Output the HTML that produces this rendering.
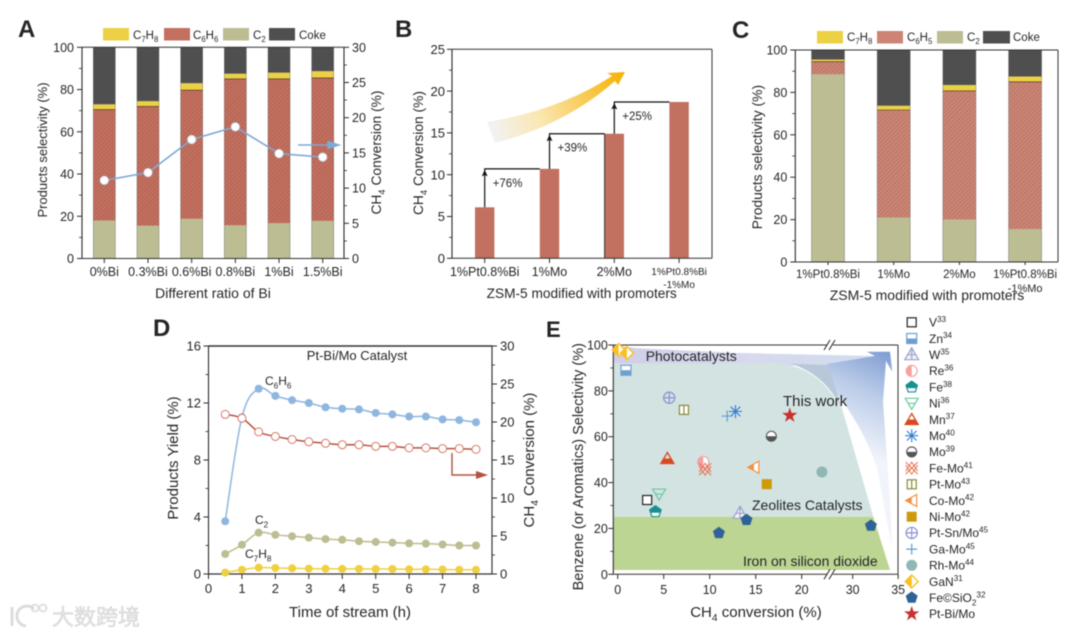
<!DOCTYPE html>
<html lang="en">
<head>
<meta charset="utf-8">
<title>Catalyst performance figure</title>
<style>
html,body{margin:0;padding:0;background:#fff;width:1080px;height:636px;overflow:hidden}
svg{display:block;filter:blur(0.5px)}
text{font-family:"Liberation Sans","Noto Sans CJK SC",sans-serif;fill:#262626}
</style>
</head>
<body>
<svg id="fig" xmlns="http://www.w3.org/2000/svg" width="1080" height="636" viewBox="0 0 1080 636">
<defs>
<pattern id="hatch" width="3" height="3" patternUnits="userSpaceOnUse" patternTransform="rotate(45)">
<line x1="0" y1="0" x2="0" y2="3" stroke="#4a1f18" stroke-width="1"/>
</pattern>
<linearGradient id="growth-grad" x1="487" y1="130" x2="625" y2="75" gradientUnits="userSpaceOnUse">
<stop offset="0" stop-color="#f1f3f8"/><stop offset="0.35" stop-color="#fbe7b4"/><stop offset="1" stop-color="#f6b200"/>
</linearGradient>
<linearGradient id="photo-grad" x1="614" y1="0" x2="840" y2="0" gradientUnits="userSpaceOnUse">
<stop offset="0" stop-color="#d0cee8"/><stop offset="0.6" stop-color="#d8d9ee"/><stop offset="1" stop-color="#d2dcef"/>
</linearGradient>
<linearGradient id="tail-grad" x1="888" y1="352" x2="845" y2="445" gradientUnits="userSpaceOnUse">
<stop offset="0" stop-color="#7f9dd2"/><stop offset="0.45" stop-color="#bccde9"/><stop offset="1" stop-color="#f1f4fa"/>
</linearGradient>
</defs>
</svg>
<script>
// ---------- Panel A data ----------
const aCategories = ['0%Bi','0.3%Bi','0.6%Bi','0.8%Bi','1%Bi','1.5%Bi'];
const aC2 = [18,15.5,18.8,15.7,16.7,17.8];
const aC6H6 = [52.5,56.5,60.9,69.3,68.3,67.7];
const aC7H8 = [2.5,2.5,3.3,2.5,3,3.2];
const aConversion = [11.1,12.2,16.9,18.7,14.9,14.4];
const aLeftTicks = [0,20,40,60,80,100];
const aRightTicks = [0,5,10,15,20,25,30];
// ---------- Panel B data ----------
const bCategories = ['1%Pt0.8%Bi','1%Mo','2%Mo','1%Pt0.8%Bi'];
const bConversion = [6.1,10.7,14.9,18.7];
const bGains = ['+76%','+39%','+25%'];
const bTicks = [0,5,10,15,20,25];
// ---------- Panel C data ----------
const cCategories = ['1%Pt0.8%Bi','1%Mo','2%Mo','1%Pt0.8%Bi'];
const cC2 = [88.5,21,20,15.5];
const cC6H6 = [6,50.7,60.7,69.5];
const cC7H8 = [1,2,2.8,2.5];
const cTicks = [0,20,40,60,80,100];
// ---------- Panel D data ----------
const dTime = [0.5,1,1.5,2,2.5,3,3.5,4,4.5,5,5.5,6,6.5,7,7.5,8];
const dBenzene = [3.7,11,13,12.5,12.2,12,11.7,11.6,11.55,11.3,11.2,11.05,11.05,10.85,10.8,10.65];
const dC2 = [1.4,2.05,2.9,2.75,2.65,2.55,2.45,2.4,2.3,2.25,2.2,2.15,2.13,2.07,2,2];
const dToluene = [0.1,0.3,0.45,0.42,0.4,0.38,0.37,0.36,0.36,0.35,0.35,0.33,0.33,0.32,0.3,0.3];
const dConversion = [21,20.5,18.7,18.1,17.7,17.4,17.2,17,17,16.8,16.8,16.6,16.6,16.5,16.5,16.4];
const dXTicks = [0,1,2,3,4,5,6,7,8];
const dLeftTicks = [0,4,8,12,16];
const dRightTicks = [0,5,10,15,20,25,30];
// ---------- Panel E data ----------
const eCatalysts = ['V^{33}','Zn^{34}','W^{35}','Re^{36}','Fe^{38}','Ni^{36}','Mn^{37}','Mo^{40}','Mo^{39}','Fe-Mo^{41}','Pt-Mo^{43}','Co-Mo^{42}','Ni-Mo^{42}','Pt-Sn/Mo^{45}','Ga-Mo^{45}','Rh-Mo^{44}','GaN^{31}','Fe©SiO_{2}^{32}','Pt-Bi/Mo'];
const eConversion = [[3.2],[0.9],[13.3],[9.3],[4.1],[4.5],[5.4],[12.8],[16.7],[9.5],[7.2],[14.8],[16.2],[5.6],[11.9],[22.2],[0.1,1],[11,14,32],[18.7]];
const eSelectivity = [[32.4],[89],[26.6],[49],[27.3],[35],[50.5],[71],[60.2],[45.8],[71.7],[46.7],[39.3],[77],[69],[44.6],[97.8,96.5],[18,23.7,21.2],[69.3]];
const eXTicks = [0,5,10,15,20,30,35];
const eYTicks = [0,20,40,60,80,100];

const NS = 'http://www.w3.org/2000/svg';
const fig = document.getElementById('fig');
const INK = '#2a2a2a';

function mk(tag, attrs, parent) {
  const e = document.createElementNS(NS, tag);
  for (const k in attrs) e.setAttribute(k, attrs[k]);
  (parent || fig).appendChild(e);
  return e;
}
function rich(textEl, str) {
  const fs = parseFloat(textEl.getAttribute('font-size'));
  const parts = str.split(/([_^]\{[^}]*\})/);
  let shift = 0;
  parts.forEach(p => {
    if (!p) return;
    const m = p.match(/^([_^])\{([^}]*)\}$/);
    const ts = document.createElementNS(NS, 'tspan');
    if (m) {
      const off = m[1] === '_' ? fs * 0.28 : -fs * 0.38;
      ts.setAttribute('dy', off - shift);
      ts.setAttribute('font-size', fs * 0.68);
      ts.textContent = m[2];
      shift = off;
    } else {
      if (shift) ts.setAttribute('dy', -shift);
      ts.textContent = p;
      shift = 0;
    }
    textEl.appendChild(ts);
  });
  return textEl;
}
function txt(parent, x, y, str, size, anchor, rotate) {
  const a = { x: x, y: y, 'font-size': size, 'text-anchor': anchor || 'start' };
  if (rotate) a.transform = 'rotate(' + rotate + ' ' + x + ' ' + y + ')';
  return rich(mk('text', a, parent), str);
}
function linear(d0, d1, r0, r1) {
  return v => r0 + (v - d0) * (r1 - r0) / (d1 - d0);
}
function group(parent) { return mk('g', {}, parent); }

function drawYAxis(parent, x, dir, scale, ticks, gap, size) {
  const g = group(parent);
  
  
  const lo = ticks[0], hi = ticks[ticks.length - 1];
  mk('line', { x1: x, x2: x, y1: scale(lo), y2: scale(hi), stroke: INK, 'stroke-width': 1.1 }, g);
  ticks.forEach(t => {
    mk('line', { x1: x, x2: x + dir * 5, y1: scale(t), y2: scale(t), stroke: INK, 'stroke-width': 1 }, g);
    const lab = txt(g, x + dir * gap, scale(t) + size * 0.36, String(t), size, dir < 0 ? 'end' : 'start');
    
    
  });
  for (let i = 0; i < ticks.length - 1; i++) {
    const m = (ticks[i] + ticks[i + 1]) / 2;
    mk('line', { x1: x, x2: x + dir * 3, y1: scale(m), y2: scale(m), stroke: INK, 'stroke-width': 0.8 }, g);
  }
}
function drawFrameLine(parent, x1, y1, x2, y2, w) {
  const l = mk('line', { x1, y1, x2, y2, stroke: '#333', 'stroke-width': w || 1 }, parent);
  
  
}
function drawLegendSwatch(parent, x, y, w, h, fill, label, lx, ly) {
  const g = group(parent);
  
  
  mk('rect', { x, y, width: w, height: h, fill }, g);
  txt(g, lx, ly, label, 11.5);
}
function panelLetter(letter, x, y, size) {
  const t = mk('text', { x, y, 'font-size': size || 24, 'font-weight': 'bold' });
  t.textContent = letter;
  
  
}
function stackedBars(parent, cx, width, scale, c2, c6, c7, c6color) {
  cx.forEach((x, i) => {
    const g = group(parent);
    
    
    const a = c2[i], b = a + c6[i], c = b + c7[i];
    const seg = (from, to, fill) => mk('rect', { x: x - width / 2, y: scale(to), width: width, height: scale(from) - scale(to), fill: fill }, g);
    seg(0, a, '#bcbd92');
    seg(a, b, c6color);
    const h = seg(a, b, 'url(#hatch)');
    h.setAttribute('opacity', '0.3');
    seg(b, c, '#ecd045');
    seg(c, 100, '#4f4f4f');
    mk('line', { x1: x - width / 2, x2: x + width / 2, y1: scale(b), y2: scale(b), stroke: '#3a2a20', 'stroke-width': 0.6 }, g);
    mk('rect', { x: x - width / 2, y: scale(100), width: width, height: scale(0) - scale(100), fill: 'none', stroke: '#444', 'stroke-width': 0.6, opacity: 0.55 }, g);
  });
}

// ---------- Panel A ----------
panelLetter('A', 18, 37);
const pa = group();


const ayL = linear(0, 100, 258.5, 47.3);
const ayR = linear(0, 30, 258.5, 47.3);
const axC = i => 104.3 + i * 43.68;
stackedBars(pa, aCategories.map((c, i) => axC(i)), 22, ayL, aC2, aC6H6, aC7H8, '#c4705f');
drawFrameLine(pa, 82, 47.3, 344, 47.3);
drawFrameLine(pa, 82, 258.5, 344, 258.5);
drawYAxis(pa, 82, -1, ayL, aLeftTicks, 8, 12.5);
drawYAxis(pa, 344, 1, ayR, aRightTicks, 8, 12.5);
aCategories.forEach((c, i) => {
  mk('line', { x1: axC(i), x2: axC(i), y1: 258.5, y2: 263, stroke: INK }, pa);
  const t = txt(pa, axC(i), 276, c, 12.5, 'middle');
  
  
});
const aLine = mk('polyline', { points: aConversion.map((v, i) => axC(i) + ',' + ayR(v)).join(' '), fill: 'none', stroke: '#7fa8d4', 'stroke-width': 1.6 }, pa);


aConversion.forEach((v, i) => {
  const p = mk('circle', { cx: axC(i), cy: ayR(v), r: 4.2, fill: '#fff', stroke: '#c9d6e4', 'stroke-width': 0.8 }, pa);
  
  
});
const aArrow = mk('path', { d: 'M298 145H332M339 145L328 141.5V148.5Z', stroke: '#7fa8d4', 'stroke-width': 1.4, fill: '#7fa8d4' }, pa);


const aLeg = group(pa);


drawLegendSwatch(aLeg, 103, 28, 26, 12.5, '#ecd045', 'C_{7}H_{8}', 133, 39);
drawLegendSwatch(aLeg, 164, 28, 26, 12.5, '#c4705f', 'C_{6}H_{6}', 193, 39);
drawLegendSwatch(aLeg, 223, 28, 26, 12.5, '#bcbd92', 'C_{2}', 253, 39);
drawLegendSwatch(aLeg, 269, 28, 26, 12.5, '#4f4f4f', 'Coke', 299, 39);
const ayt = txt(pa, 47, 150, 'Products selectivity (%)', 13, 'middle', -90);


const art = txt(pa, 381, 152.5, 'CH_{4} Conversion (%)', 13.8, 'middle', -90);


const axt = txt(pa, 213, 298, 'Different ratio of Bi', 14, 'middle');



// ---------- Panel B ----------
panelLetter('B', 395, 37);
const pb = group();


const byS = linear(0, 25, 258.3, 49.3);
const bxC = i => 484.7 + i * 64.8;
const growth = mk('path', { d: 'M487 122Q560 110 612 76L607 73L625 72L618 85L615 81Q565 125 495 143Z', fill: 'url(#growth-grad)' }, pb);


bConversion.forEach((v, i) => {
  const r = mk('rect', { x: bxC(i) - 9.7, y: byS(v), width: 19.4, height: byS(0) - byS(v), fill: '#c2705f' }, pb);
  
  
});
drawFrameLine(pb, 452, 49.3, 712, 49.3);
drawFrameLine(pb, 712, 49.3, 712, 258.3);
drawFrameLine(pb, 452, 258.3, 712, 258.3);
drawYAxis(pb, 452, -1, byS, bTicks, 7, 13);
bCategories.forEach((c, i) => {
  mk('line', { x1: bxC(i), x2: bxC(i), y1: 258.3, y2: 263, stroke: INK }, pb);
  const t = txt(pb, bxC(i), i === 3 ? 275 : 276, c, i === 3 ? 10 : 12.5, 'middle');
  
  
});
const bExtra = txt(pb, bxC(3), 288, '-1%Mo', 10, 'middle');


bGains.forEach((g, i) => {
  const x = bxC(i), yFrom = byS(bConversion[i]), yTo = byS(bConversion[i + 1]);
  const step = mk('path', { d: 'M' + x + ' ' + yFrom + 'V' + yTo + 'H' + (bxC(i + 1) - 9.7), fill: 'none', stroke: '#111', 'stroke-width': 1.2 }, pb);
  
  
  const head = mk('path', { d: 'M' + x + ' ' + (yTo + 1) + 'l-3 6.5l3 -1.5l3 1.5Z', fill: '#111' }, pb);
  
  
  const t = txt(pb, x + 8, yTo + 18, g, 11.5);
  
  
});
drawFrameLine(pb, bxC(2) - 9.7, byS(bConversion[2]), bxC(2) - 9.7, byS(0), 1);
const byt = txt(pb, 423, 153, 'CH_{4} Conversion (%)', 13.8, 'middle', -90);


const bxt = txt(pb, 581.7, 298, 'ZSM-5 modified with promoters', 13.7, 'middle');



// ---------- Panel C ----------
panelLetter('C', 732, 38);
const pc = group();


const cyS = linear(0, 100, 262, 50);
const cxC = i => 828 + i * 65.7;
stackedBars(pc, cCategories.map((c, i) => cxC(i)), 33, cyS, cC2, cC6H6, cC7H8, '#cc8575');
drawFrameLine(pc, 795.3, 50, 1058, 50);
drawFrameLine(pc, 1058, 50, 1058, 262);
drawFrameLine(pc, 795.3, 262, 1058, 262);
drawYAxis(pc, 795.3, -1, cyS, cTicks, 8, 12.5);
cCategories.forEach((c, i) => {
  mk('line', { x1: cxC(i), x2: cxC(i), y1: 262, y2: 265, stroke: INK }, pc);
  const t = txt(pc, cxC(i), 278, c, 11.5, 'middle');
  
  
});
const cExtra = txt(pc, cxC(3), 292, '-1%Mo', 11, 'middle');


const cLeg = group(pc);


drawLegendSwatch(cLeg, 817, 31, 26, 12.5, '#ecd045', 'C_{7}H_{8}', 847, 41);
drawLegendSwatch(cLeg, 877, 31, 26, 12.5, '#cc8575', 'C_{6}H_{5}', 907, 41);
drawLegendSwatch(cLeg, 937, 31, 26, 12.5, '#bcbd92', 'C_{2}', 967, 41);
drawLegendSwatch(cLeg, 983, 31, 27, 12.5, '#4f4f4f', 'Coke', 1013, 41);
const cyt = txt(pc, 762, 157, 'Products selectivity (%)', 13.9, 'middle', -90);


const cxt = txt(pc, 927, 300, 'ZSM-5 modified with promoters', 14, 'middle');



// ---------- Panel D ----------
panelLetter('D', 153, 336);
const pd = group();


const dxS = linear(0, 8, 208.5, 476);
const dyL = linear(0, 16, 574, 346);
const dyR = linear(0, 30, 574, 346);
drawFrameLine(pd, 208.5, 346, 492, 346, 1.4);
drawFrameLine(pd, 208.5, 574, 492, 574, 1.2);
drawYAxis(pd, 208.5, -1, dyL, dLeftTicks, 7.5, 13);
drawYAxis(pd, 492, 1, dyR, dRightTicks, 8, 13);
dXTicks.forEach(t => {
  const x = dxS(t);
  mk('line', { x1: x, x2: x, y1: 574, y2: 579, stroke: INK }, pd);
  const lab = txt(pd, x, 593, String(t), 13, 'middle');
  
  
});
function smoothPath(xs, ys) {
  let d = 'M' + xs[0] + ' ' + ys[0];
  for (let i = 0; i < xs.length - 1; i++) {
    const x0 = xs[Math.max(i - 1, 0)], y0 = ys[Math.max(i - 1, 0)];
    const x3 = xs[Math.min(i + 2, xs.length - 1)], y3 = ys[Math.min(i + 2, ys.length - 1)];
    d += 'C' + (xs[i] + (xs[i + 1] - x0) / 6) + ' ' + (ys[i] + (ys[i + 1] - y0) / 6) + ' ' +
         (xs[i + 1] - (x3 - xs[i]) / 6) + ' ' + (ys[i + 1] - (y3 - ys[i]) / 6) + ' ' + xs[i + 1] + ' ' + ys[i + 1];
  }
  return d;
}
function dSeries(values, scale, color, fill, edge) {
  const g = group(pd);
  
  
  const xs = dTime.map(dxS), ys = values.map(scale);
  mk('path', { d: smoothPath(xs, ys), fill: 'none', stroke: color, 'stroke-width': 1.5 }, g);
  xs.forEach((x, i) => {
    const c = mk('circle', { cx: x, cy: ys[i], r: 4, fill: fill, stroke: edge, 'stroke-width': fill === '#fff' ? 1 : 0 }, g);
    
    
  });
}
dSeries(dToluene, dyL, '#efd040', '#efd040', '#efd040');
dSeries(dC2, dyL, '#bcbd92', '#bcbd92', '#bcbd92');
dSeries(dBenzene, dyL, '#8fb6de', '#8fb6de', '#8fb6de');
dSeries(dConversion, dyR, '#b5523f', '#fff', '#d9776a');
const dArrow = mk('path', { d: 'M452 453V475H478', fill: 'none', stroke: '#b5523f', 'stroke-width': 1.4 }, pd);


const dHead = mk('path', { d: 'M488 475L476 471V479Z', fill: '#b5523f' }, pd);


[['Pt-Bi/Mo Catalyst', 357, 360, 13, 'middle', 'catalyst-title'],
 ['C_{6}H_{6}', 265, 385, 12, 'start', 'benzene-label'],
 ['C_{2}', 255, 524, 12, 'start', 'c2-label'],
 ['C_{7}H_{8}', 245, 558, 12, 'start', 'toluene-label']].forEach(a => {
  const t = txt(pd, a[1], a[2], a[0], a[3], a[4]);
  
  
});
const dyt = txt(pd, 178, 458, 'Products Yield (%)', 15, 'middle', -90);


const drt = txt(pd, 534, 460, 'CH_{4} Conversion (%)', 15, 'middle', -90);


const dxt = txt(pd, 350, 617, 'Time of stream (h)', 15, 'middle');



// ---------- Panel E ----------
panelLetter('E', 546, 337, 22);
const pe = group();


const exS = v => v <= 24 ? 617.7 + v * 9.2 : 852.7 + (v - 30) * 9.1;
const eyS = linear(0, 100, 574.3, 345);
const bgPhoto = mk('path', { d: 'M614 345L636.7 348.3L740 353L875 356L880 366H826.7L614 363.3Z', fill: 'url(#photo-grad)' }, pe);


const bgTail = mk('path', { d: 'M826.7 364L875 356L866.7 351.7H890L892.3 371.7L886 361L883 402L890 502L892 548L877 468Q862 425 836 393Z', fill: 'url(#tail-grad)' }, pe);


const bgWedge = mk('path', { d: 'M790 363.6L828 365L843 412C836 395 820 372 790 363.6Z', fill: '#b9c8d8' }, pe);


const bgZeo = mk('path', { d: 'M614 363.3H773.3C800 364 825 376 843 412L873.3 516.7H614Z', fill: '#d2e3e2' }, pe);


const bgIron = mk('path', { d: 'M614 516.7H873.3L890 570H614Z', fill: '#bcd593' }, pe);


drawFrameLine(pe, 613.3, 345, 898, 345);
drawFrameLine(pe, 898, 345, 898, 574.3);
drawFrameLine(pe, 613.3, 574.3, 898, 574.3);
drawYAxis(pe, 613.3, -1, eyS, eYTicks, 5.5, 12.5);
eXTicks.forEach(t => {
  const x = exS(t);
  mk('line', { x1: x, x2: x, y1: 574.3, y2: 579, stroke: INK }, pe);
  const lab = txt(pe, x, 594, String(t), 12.5, 'middle');
  
  
});
[[830, 345], [830, 574.3]].forEach(p => {
  const b = group(pe);
  
  
  mk('rect', { x: p[0] - 3, y: p[1] - 1.5, width: 6, height: 3, fill: '#fff' }, b);
  mk('path', { d: 'M' + (p[0] - 6) + ' ' + (p[1] + 5) + 'l6 -10M' + (p[0] - 1) + ' ' + (p[1] + 5) + 'l6 -10', stroke: '#222', fill: 'none', 'stroke-width': 1 }, b);
});
function poly(n, r, rot) {
  const a = [];
  for (let i = 0; i < n; i++) {
    const t = (rot + i * 360 / n) * Math.PI / 180;
    a.push((r * Math.sin(t)).toFixed(2) + ' ' + (-r * Math.cos(t)).toFixed(2));
  }
  return 'M' + a.join('L') + 'Z';
}
function drawMarker(parent, label, cx, cy) {
  const g = mk('g', { transform: 'translate(' + cx + ' ' + cy + ')' }, parent);
  
  
  const key = label.replace(/[_^]\{[^}]*\}/g, '');
  const sup = (label.match(/\^\{(\d+)\}/) || [])[1];
  const L = (d, s, w) => mk('path', { d: d, fill: 'none', stroke: s, 'stroke-width': w || 1.2 }, g);
  const F = (d, f) => mk('path', { d: d, fill: f }, g);
  if (key === 'V') { mk('rect', { x: -4.5, y: -4.5, width: 9, height: 9, fill: '#fff', stroke: '#222', 'stroke-width': 1.2 }, g); }
  else if (key === 'Zn') { mk('rect', { x: -5, y: -5, width: 10, height: 10, fill: '#fff', stroke: '#6f9fd0', 'stroke-width': 1.2 }, g); F('M-5 0H5V5H-5Z', '#6f9fd0'); }
  else if (key === 'W') { F('M0 -7L7 5H-7Z', '#f1f3f6'); L('M0 -7L7 5H-7ZM0 -7V5M-4 0H4', '#a1a1cc'); }
  else if (key === 'Re') { mk('circle', { r: 5.5, fill: '#fff', stroke: '#f4a5a5', 'stroke-width': 1.2 }, g); F('M0 -5.5A5.5 5.5 0 0 0 0 5.5Z', '#f8a0a0'); }
  else if (key === 'Fe') { F(poly(5, 6, 0), '#fff'); L(poly(5, 6, 0), '#17908f', 1.2); F('M-5.7 -1.9L0 -6L5.7 -1.9L5 1H-5Z', '#17908f'); }
  else if (key === 'Ni') { L('M-6.5 -5H6.5L0 6ZM-3.5 0H3.5', '#6cc9a0'); }
  else if (key === 'Mn') { L('M0 -6L6.5 5H-6.5Z', '#d9491f', 1.3); F('M-3.3 0H3.3L6.5 5H-6.5Z', '#d9491f'); }
  else if (key === 'Mo' && sup === '40') { L('M-6.5 0H6.5M0 -6.5V6.5M-4.8 -4.8L4.8 4.8M-4.8 4.8L4.8 -4.8', '#2f7bd0', 1.1); }
  else if (key === 'Mo') { mk('circle', { r: 5, fill: '#fff', stroke: '#555', 'stroke-width': 1.1 }, g); F('M-5 0A5 5 0 0 0 5 0Z', '#555'); }
  else if (key === 'Fe-Mo') { L('M-6 -6L6 6M-6 6L6 -6M-6 -3L0 6L6 -3M-6 3L0 -6L6 3', '#e5714f', 1); }
  else if (key === 'Pt-Mo') { mk('rect', { x: -4.5, y: -4.5, width: 9, height: 9, fill: '#fff', stroke: '#8a8a3a', 'stroke-width': 1.2 }, g); L('M0 -4.5V4.5', '#8a8a3a'); }
  else if (key === 'Co-Mo') { F('M-6 0L5 -6V6Z', '#fff'); F('M-6 0L0 -3.3V3.3Z', '#f0923f'); L('M-6 0L5 -6V6Z', '#f0923f', 1.2); }
  else if (key === 'Ni-Mo') { mk('rect', { x: -5, y: -5, width: 10, height: 10, fill: '#cc9a0a' }, g); }
  else if (key === 'Pt-Sn/Mo') { mk('circle', { r: 5.6, fill: 'none', stroke: '#8f8fd0', 'stroke-width': 1.2 }, g); L('M-5.3 0H5.3M0 -5.3V5.3', '#8f8fd0'); }
  else if (key === 'Ga-Mo') { L('M-5.5 0H5.5M0 -5.5V5.5', '#5f9fd0'); }
  else if (key === 'Rh-Mo') { mk('circle', { r: 5.5, fill: '#8fb8b5' }, g); }
  else if (key === 'GaN') { F('M0 -6.5L6.5 0L0 6.5L-6.5 0Z', '#fff'); F('M0 -6.5L-6.5 0L0 6.5Z', '#fbbf24'); L('M0 -6.5L6.5 0L0 6.5L-6.5 0Z', '#fbbf24', 1.4); }
  else if (key === 'Fe©SiO') { F(poly(5, 6.3, 0), '#2f6296'); }
  else {
    const a = [];
    for (let i = 0; i < 10; i++) {
      const r = i % 2 ? 3.1 : 8, t = i * 36 * Math.PI / 180;
      a.push((r * Math.sin(t)).toFixed(2) + ' ' + (-r * Math.cos(t)).toFixed(2));
    }
    F('M' + a.join('L') + 'Z', '#c9302f');
  }
}
eCatalysts.forEach((label, i) => {
  eConversion[i].forEach((x, j) => {
    drawMarker(pe, label, exS(x), eyS(eSelectivity[i][j]));
  });
});
[['Photocatalysts', 645.7, 361, 14],
 ['This work', 783, 406, 15],
 ['Zeolites Catalysts', 752, 510, 14],
 ['Iron on silicon dioxide', 743, 566, 14]].forEach(a => {
  const t = txt(pe, a[1], a[2], a[0], a[3]);
  
  
});
const eyt = txt(pe, 583, 466.7, 'Benzene (or Aromatics) Selectivity (%)', 14.5, 'middle', -90);


const ext = txt(pe, 756, 617, 'CH_{4} conversion (%)', 15, 'middle');


const eLeg = group(pe);


eCatalysts.forEach((label, i) => {
  const y = 322.3 + i * 16.2;
  const entry = group(eLeg);
  
  
  drawMarker(entry, label, 911.7, y);
  txt(entry, 929, y + 4.3, label, 12);
});

// ---------- Watermark ----------
const wm = group();


const wmLogo = mk('path', { d: 'M12 607V626M34 609A10 10 0 1 0 26 626', fill: 'none', stroke: '#dcdcdc', 'stroke-width': 3 }, wm);


mk('circle', { cx: 35, cy: 608, r: 3.5, fill: 'none', stroke: '#dcdcdc', 'stroke-width': 1.8 }, wm);
mk('circle', { cx: 43, cy: 608, r: 3.5, fill: 'none', stroke: '#dcdcdc', 'stroke-width': 1.8 }, wm);
const wmText = mk('text', { x: 52, y: 625, 'font-size': 22, style: 'fill:#e4e4e4', stroke: '#d2d2d2', 'stroke-width': 0.5 }, wm);
wmText.textContent = '大数跨境';


</script>
</body>
</html>
